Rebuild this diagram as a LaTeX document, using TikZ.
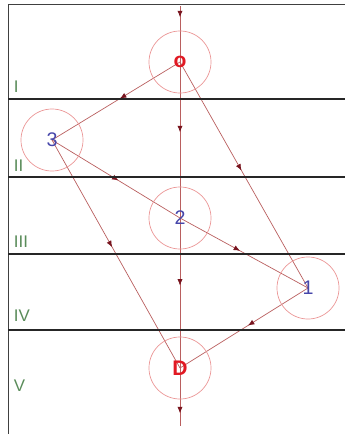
\documentclass[tikz,border=0pt]{standalone}
\usepackage{fontspec}
\setmainfont{Liberation Sans}
\usetikzlibrary{arrows.meta,decorations.markings,backgrounds}
\definecolor{ringred}{RGB}{235,150,150}
\definecolor{edgered}{RGB}{185,95,95}
\definecolor{tipred}{RGB}{120,20,30}
\definecolor{opblue}{RGB}{70,70,170}
\definecolor{termred}{RGB}{225,25,35}
\definecolor{stagegreen}{RGB}{90,140,90}

\begin{document}
\begin{tikzpicture}[x=0.025cm, y=-0.025cm,
    op/.style={circle, draw=ringred, line width=0.5pt, minimum size=1.55cm, inner sep=0pt, font=\fontsize{14}{16}\selectfont, text=opblue},
    term/.style={op, text=termred, font=\fontsize{15}{17}\selectfont\bfseries},
    stage/.style={anchor=west, text=stagegreen, font=\fontsize{12}{14}\selectfont},
    sep/.style={line width=1.3pt, black!85},
    arc/.style={edgered, line width=0.5pt, postaction={decorate},
        decoration={markings, mark=at position #1 with {\arrow[tipred]{Latex[length=1.6mm,width=1.3mm]}}}},
    arc/.default=0.5
]
    \useasboundingbox (0,0) rectangle (345,434);
    % frame on the left and on top
    \draw[black!75, line width=0.6pt] (8,434) -- (8,4) -- (345,4);

    % stage separators and labels
    \foreach \y/\lab/\ly in {99/I/87, 177/II/166, 254/III/242, 330/IV/316} {
        \draw[sep] (8,\y) -- (345,\y);
        \node[stage] (st-\lab) at (9,\ly) {\lab};
    }
    \node[stage] (st-V) at (9,386) {V};

    % operations
    \node[term] (src) at (180,62) {o};
    \node[op] (n3) at (52,140) {3};
    \node[op] (n2) at (180,218) {2};
    \node[op] (n1) at (308,288) {1};
    \node[term] (snk) at (180,368) {D};
    \coordinate (in) at (180,6);
    \coordinate (out) at (180,426);

    % arcs
    \begin{scope}[on background layer]
    \draw[arc=0.2] (in) -- (src.center);
    \draw[arc=0.45] (src.center) -- (n2.center);
    \draw[arc=0.45] (n2.center) -- (snk.center);
    \draw[arc=0.78] (snk.center) -- (out);
    \draw[arc=0.47] (src.center) -- (n3.center);
    \draw[arc=0.48] (src.center) -- (n1.center);
    \draw[arc=0.52] (n3.center) -- (n2.center);
    \draw[arc=0.47] (n2.center) -- (n1.center);
    \draw[arc=0.47] (n3.center) -- (snk.center);
    \draw[arc=0.47] (n1.center) -- (snk.center);
    \end{scope}
\end{tikzpicture}
\end{document}
